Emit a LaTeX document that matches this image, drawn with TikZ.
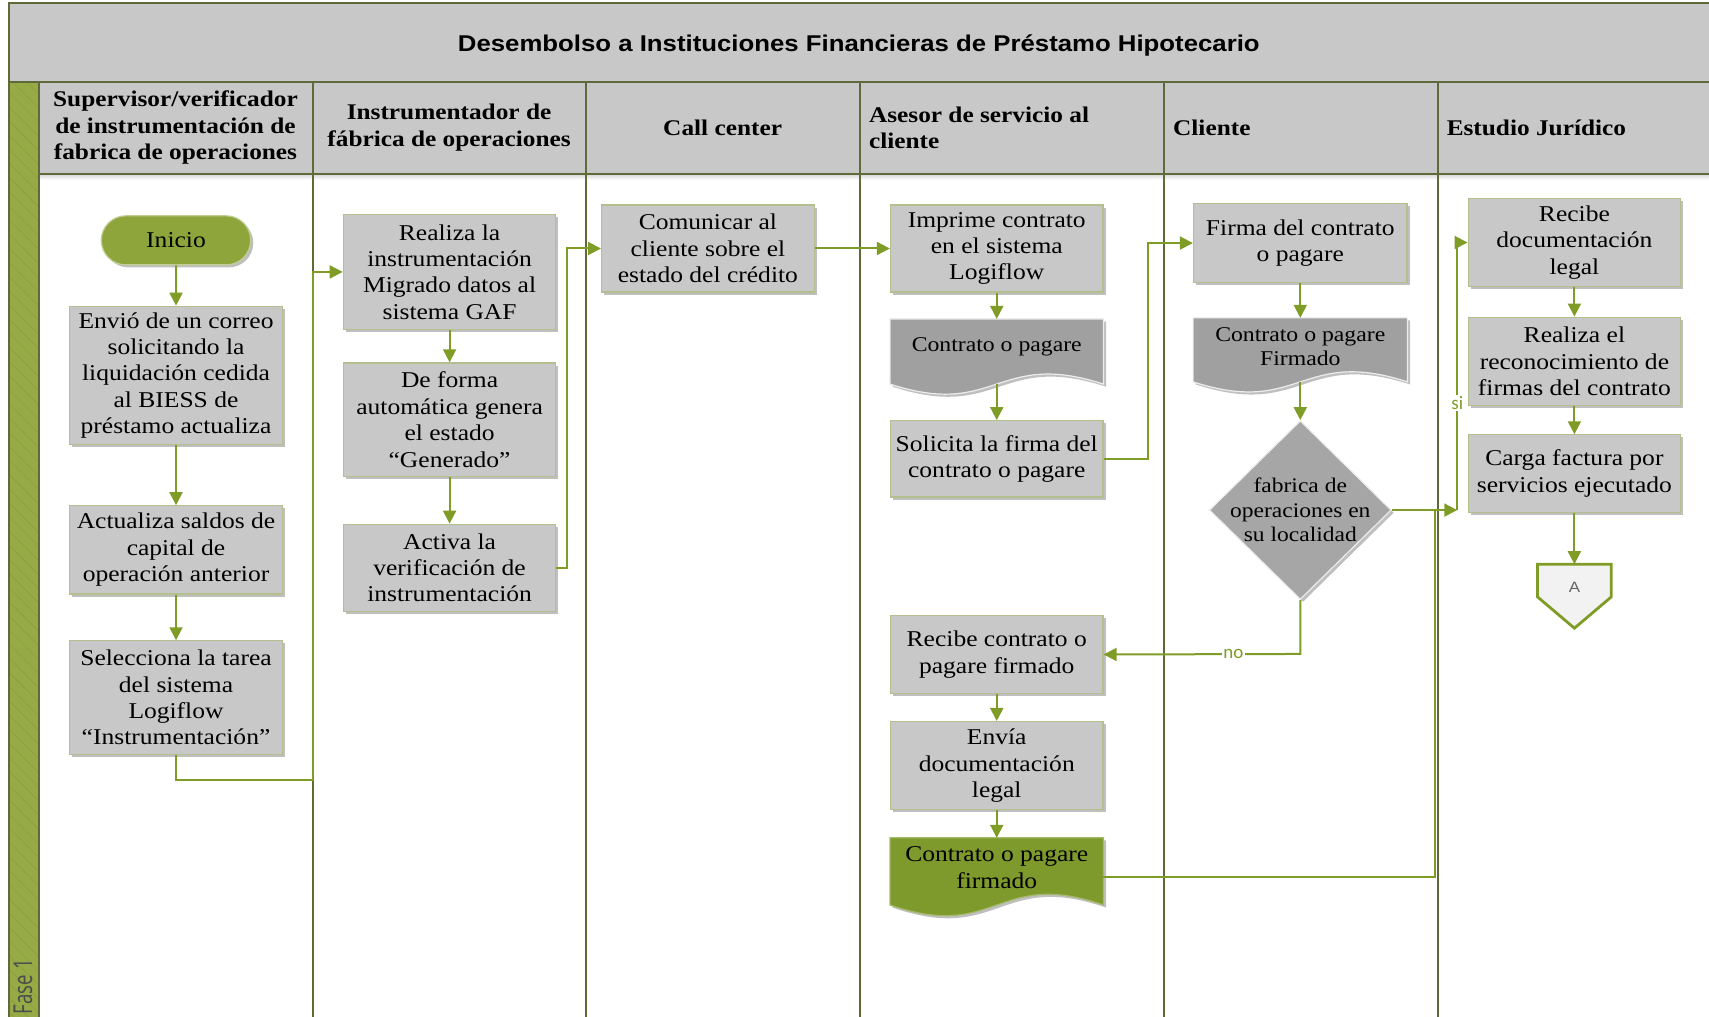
\documentclass[tikz,border=0pt]{standalone}
\usepackage{fontspec}
\setmainfont{Liberation Serif}[FakeStretch=1.13]
\newfontfamily\titlefont{Liberation Sans}[FakeStretch=1.13]
\newfontfamily\fasefont{Open Sans}
\newfontfamily\lblfont{Carlito}
\usetikzlibrary{arrows.meta,shapes.misc,shapes.geometric,shadows,calc,patterns.meta}

\definecolor{boxgray}{HTML}{C8C8C8}
\definecolor{docgray}{HTML}{A0A0A0}
\definecolor{diagray}{HTML}{A6A6A6}
\definecolor{boxedge}{HTML}{B3BF8C}
\definecolor{flow}{HTML}{7F9C26}
\definecolor{lane}{HTML}{5E6A3A}
\definecolor{strip}{HTML}{96AA46}
\definecolor{startgreen}{HTML}{8DA53A}
\definecolor{docgreen}{HTML}{7F9A2C}
\definecolor{headgray}{HTML}{C8C8C8}
\definecolor{offfill}{HTML}{F2F2F2}

\tikzset{
  softshadow/.style={drop shadow={shadow xshift=1.3pt,shadow yshift=-1.3pt,opacity=0.25,fill=black}},
  box/.style={draw=boxedge, line width=0.6pt, fill=boxgray, minimum width=106.3pt,
    inner sep=1pt, align=center, font=\fontsize{11.3}{13.2}\selectfont, softshadow},
  docbase/.style={minimum width=106.3pt, inner sep=0pt, draw=none},
  doctext/.style={align=center, inner sep=0pt, font=\fontsize{10.5}{12}\selectfont},
  head/.style={inner sep=0pt, font=\bfseries\fontsize{11.2}{13.1}\selectfont},
  startnode/.style={rounded rectangle, fill=startgreen, draw=startgreen!55!white, line width=0.6pt,
    minimum width=74.7pt, minimum height=24.5pt, inner sep=0pt,
    font=\fontsize{11.3}{13.2}\selectfont, softshadow},
  flowline/.style={draw=flow, line width=1pt, -{Triangle[length=6.5pt,width=6.5pt]}},
  plainflow/.style={draw=flow, line width=1pt},
  laneline/.style={draw=lane, line width=0.9pt},
  lbl/.style={font=\lblfont\fontsize{9.5}{10}\selectfont, text=flow, fill=white, inner sep=0.6pt},
}

\begin{document}
\begin{tikzpicture}[x=0.545pt, y=-0.545pt]
\useasboundingbox (0,0) rectangle (1568,933);

% title band and lane headers
\fill[headgray] (8,3) rectangle (1568,160);
\shade[top color=black!15, bottom color=white] (36,160) rectangle (1568,165);
\node[font=\titlefont\bfseries\fontsize{11.4}{13}\selectfont] (title) at (788,42)
  {Desembolso a Instituciones Financieras de Préstamo Hipotecario};

% phase strip
\fill[strip] (8,75) rectangle (36,933);
\fill[pattern={Lines[angle=-45,distance=5pt,line width=0.3pt]}, pattern color=strip!93!black]
  (8,75) rectangle (36,933);
\node[rotate=90, anchor=west, inner sep=0pt, text=black!70,
  font=\fasefont\fontsize{13}{13}\selectfont] (fase) at (21,931) {\scalebox{0.72}[1]{Fase 1}};

% frame and lane dividers
\draw[laneline] (1568,3) -- (8,3) -- (8,933);
\draw[laneline] (8,75) -- (1568,75);
\draw[laneline] (36,160) -- (1568,160);
\foreach \xx in {36,287,538,789,1068,1319}
  \draw[laneline] (\xx,75) -- (\xx,933);

% lane titles
\node[head, align=center] (h1) at (161,117) {Supervisor/verificador\\de instrumentación de\\fabrica de operaciones};
\node[head, align=center] (h2) at (412,117) {Instrumentador de\\fábrica de operaciones};
\node[head] (h3) at (663,117) {Call center};
\node[head, align=left, anchor=west] (h4) at (797,117) {Asesor de servicio al\\cliente};
\node[head, anchor=west] (h5) at (1076,117) {Cliente};
\node[head, anchor=west] (h6) at (1327,117) {Estudio Jurídico};

% lane 1
\node[startnode] (inicio) at (161.5,220.5) {Inicio};
\node[box, minimum height=69.2pt] (envio) at (161.5,344.5)
  {Envió de un correo\\solicitando la\\liquidación cedida\\al BIESS de\\préstamo actualiza};
\node[box, minimum height=44.1pt] (actualiza) at (161.5,504.5)
  {Actualiza saldos de\\capital de\\operación anterior};
\node[box, minimum height=56.7pt] (selecciona) at (161.5,640)
  {Selecciona la tarea\\del sistema\\Logiflow\\“Instrumentación”};

% lane 2
\node[box, minimum height=57.2pt] (realiza) at (412.5,249.5)
  {Realiza la\\instrumentación\\Migrado datos al\\sistema GAF};
\node[box, minimum height=56.7pt] (deforma) at (412.5,385)
  {De forma\\automática genera\\el estado\\“Generado”};
\node[box, minimum height=43.6pt] (activa) at (412.5,521)
  {Activa la\\verificación de\\instrumentación};

% lane 3
\node[box, minimum height=43.6pt] (comunicar) at (649.5,228)
  {Comunicar al\\cliente sobre el\\estado del crédito};

% lane 4
\node[box, minimum height=43.6pt] (imprime) at (914.5,228)
  {Imprime contrato\\en el sistema\\Logiflow};
\node[docbase, minimum height=32.2pt] (doc1) at (914.5,322.5) {};
\path[fill=docgray, draw=white!85!gray, line width=0.6pt, softshadow]
  (doc1.north west) -- (doc1.north east) -- (doc1.south east)
  .. controls ($(doc1.south)+(0,-32)$) and ($(doc1.south)+(0,32)$) .. (doc1.south west) -- cycle;
\node[doctext] (doc1t) at (914.5,318) {Contrato o pagare};
\node[box, minimum height=38.2pt] (solicita) at (914.5,421)
  {Solicita la firma del\\contrato o pagare};
\node[box, minimum height=38.7pt] (recibec) at (914.5,600.5)
  {Recibe contrato o\\pagare firmado};
\node[box, minimum height=44.1pt] (envia) at (914.5,702.5)
  {Envía\\documentación\\legal};
\node[docbase, minimum height=33.2pt] (docg) at (914.5,799.5) {};
\path[fill=docgreen, draw=docgreen!70!white, line width=0.6pt, softshadow]
  (docg.north west) -- (docg.north east) -- (docg.south east)
  .. controls ($(docg.south)+(0,-34)$) and ($(docg.south)+(0,34)$) .. (docg.south west) -- cycle;
\node[doctext, font=\fontsize{11.3}{13.2}\selectfont] (docgt) at (914.5,796)
  {Contrato o pagare\\firmado};

% lane 5
\node[box, minimum width=106.8pt, minimum height=39.2pt] (firma) at (1193,223)
  {Firma del contrato\\o pagare};
\node[docbase, minimum width=106.8pt, minimum height=31.6pt] (doc2) at (1193,321) {};
\path[fill=docgray, draw=white!85!gray, line width=0.6pt, softshadow]
  (doc2.north west) -- (doc2.north east) -- (doc2.south east)
  .. controls ($(doc2.south)+(0,-32)$) and ($(doc2.south)+(0,32)$) .. (doc2.south west) -- cycle;
\node[doctext] (doc2t) at (1193,318) {Contrato o pagare\\Firmado};
\node[diamond, fill=diagray, draw=white!85!gray, line width=0.6pt, inner sep=0pt,
  minimum width=91pt, minimum height=89.4pt, softshadow] (dia) at (1193,468) {};
\node[align=center, inner sep=0pt, font=\fontsize{10.4}{12.3}\selectfont] (diat) at (1193,468)
  {fabrica de\\operaciones en\\su localidad};

% lane 6
\node[box, minimum height=44.1pt] (recdoc) at (1444.5,222.5)
  {Recibe\\documentación\\legal};
\node[box, minimum height=44.1pt] (realizael) at (1444.5,331.5)
  {Realiza el\\reconocimiento de\\firmas del contrato};
\node[box, minimum height=38.7pt] (carga) at (1444.5,434.5)
  {Carga factura por\\servicios ejecutado};
\node[inner sep=0pt, minimum width=36.5pt, minimum height=31.6pt] (offA) at (1444.5,547) {};
\path[fill=offfill, draw=flow, line width=1.4pt, line join=miter]
  (offA.north west) -- (offA.north east) -- ($(offA.north east)+(0,30)$)
  -- (offA.south) -- ($(offA.north west)+(0,30)$) -- cycle;
\node[font=\titlefont\fontsize{7.5}{8}\selectfont, text=black!60] (offAt) at (1444.5,539) {A};

% connectors
\coordinate (c1) at (287,716);
\coordinate (c2) at (520,521);
\coordinate (c3) at (1053,421);
\coordinate (c4) at (1193,600);
\coordinate (c5) at (1317,468);
\coordinate (siJ) at (1337,468);

\draw[flowline] (inicio) -- (envio);
\draw[flowline] (envio) -- (actualiza);
\draw[flowline] (actualiza) -- (selecciona);
\draw[flowline] (selecciona.south) |- (c1) |- (realiza.west);
\draw[flowline] (realiza) -- (deforma);
\draw[flowline] (deforma) -- (activa);
\draw[flowline] (activa.east) -- (c2) |- (comunicar.west);
\draw[flowline] (comunicar.east) -- (imprime.west);
\draw[flowline] (imprime) -- (doc1);
\draw[flowline] (doc1.south) -- (solicita.north);
\draw[flowline] (solicita.east) -- (c3) |- (firma.west);
\draw[flowline] (firma) -- (doc2);
\draw[flowline] (doc2.south) -- (dia.north);
\draw[plainflow] ($(docg.east)+(0,5)$) -| (c5);
\draw[flowline] (dia.east) -- (siJ);
\draw[flowline] (siJ) |- (recdoc.west) node[lbl, pos=0.2] {si};
\draw[flowline] (dia.south) -- (c4) -- (recibec.east) node[lbl, pos=0.34] {no};
\draw[flowline] (recibec) -- (envia);
\draw[flowline] (envia) -- (docg);
\draw[flowline] (recdoc) -- (realizael);
\draw[flowline] (realizael) -- (carga);
\draw[flowline] (carga.south) -- (offA.north);
\end{tikzpicture}
\end{document}
